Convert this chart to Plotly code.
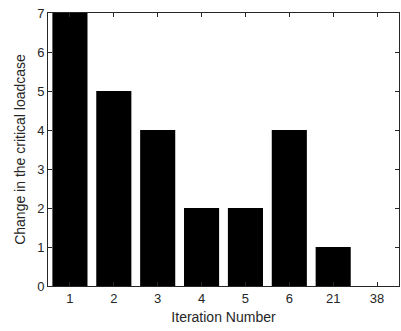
import plotly.graph_objects as go

# Iterations at which the critical loadcase changed, and how many changes occurred
iterations = ["1", "2", "3", "4", "5", "6", "21", "38"]
changes = [7, 5, 4, 2, 2, 4, 1, 0]
y_ticks = [0, 1, 2, 3, 4, 5, 6, 7]

axis_color = "#262626"
font_family = "Liberation Sans, Arial, Helvetica, sans-serif"

fig = go.Figure(
    go.Bar(
        x=iterations,
        y=changes,
        marker=dict(color="black", line=dict(width=0)),
        width=0.8,
    )
)

common_axis = dict(
    showline=True,
    linecolor=axis_color,
    linewidth=0.8,
    mirror="ticks",
    ticks="inside",
    ticklen=4,
    tickwidth=0.8,
    tickcolor=axis_color,
    showgrid=False,
    zeroline=False,
    tickfont=dict(family=font_family, size=13, color=axis_color),
)

fig.update_xaxes(
    type="category",
    range=[-0.5, 7.5],
    title=dict(text="Iteration Number", font=dict(family=font_family, size=14, color=axis_color), standoff=7),
    **common_axis,
)
fig.update_yaxes(
    range=[0, 7],
    tickvals=y_ticks,
    title=dict(text="Change in the critical loadcase", font=dict(family=font_family, size=14, color=axis_color), standoff=8),
    **common_axis,
)

fig.update_layout(
    width=401,
    height=331,
    margin=dict(l=48, r=2, t=13, b=45),
    plot_bgcolor="white",
    paper_bgcolor="white",
    showlegend=False,
    bargap=0.2,
)

fig.write_html("out.html")
